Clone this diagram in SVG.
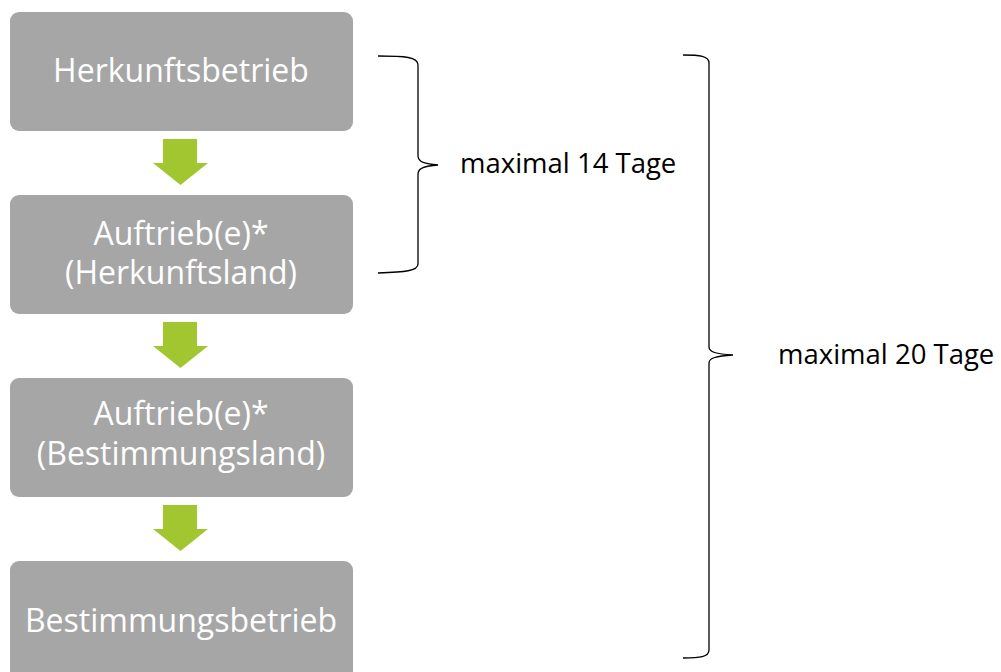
<svg xmlns="http://www.w3.org/2000/svg" width="1001" height="672" viewBox="0 0 1001 672">
<style>
.box{fill:#a6a6a6;}
.bt{font-family:"Open Sans","Noto Sans",sans-serif;font-size:32px;fill:#ffffff;text-anchor:middle;}
.lbl{font-family:"Open Sans","Noto Sans",sans-serif;font-size:27.5px;fill:#000000;}
.arr{fill:#a2c62f;}
.brace{fill:none;stroke:#000000;stroke-width:1.3;}
</style>
<rect width="1001" height="672" fill="#ffffff"/>
<g id="n1"><rect class="box" x="10" y="12" width="343" height="119" rx="9"/><text class="bt" x="181" y="82">Herkunftsbetrieb</text></g>
<g id="n2"><rect class="box" x="10" y="195" width="343" height="119" rx="9"/><text class="bt" x="181" y="245">Auftrieb(e)*</text><text class="bt" x="181" y="284">(Herkunftsland)</text></g>
<g id="n3"><rect class="box" x="10" y="378" width="343" height="119" rx="9"/><text class="bt" x="181" y="425">Auftrieb(e)*</text><text class="bt" x="181" y="465">(Bestimmungsland)</text></g>
<g id="n4"><rect class="box" x="10" y="561" width="343" height="125" rx="9"/><text class="bt" x="181" y="632">Bestimmungsbetrieb</text></g>
<g id="connectors">
<polygon class="arr" points="163,139 197,139 197,163 208,163 180.5,185 153,163 163,163"/>
<polygon class="arr" points="163,322 197,322 197,346 208,346 180.5,368 153,346 163,346"/>
<polygon class="arr" points="163,505 197,505 197,529 208,529 180.5,551 153,529 163,529"/>
</g>
<g id="brace1"><path class="brace" d="M378,56 C405,56 418,57 418,65 L418,156 C418,162 425,164 438,165 C425,166 418,168 418,174 L418,264 C418,271 405,272 378,273"/><text class="lbl" x="460" y="173">maximal 14 Tage</text></g>
<g id="brace2"><path class="brace" d="M683,55 C700,55 709,56 709,63 L709,347 C709,352 716,354 733,355 C716,356 709,358 709,363 L709,650 C709,657 700,658 683,658"/><text class="lbl" x="778" y="364">maximal 20 Tage</text></g>
</svg>
